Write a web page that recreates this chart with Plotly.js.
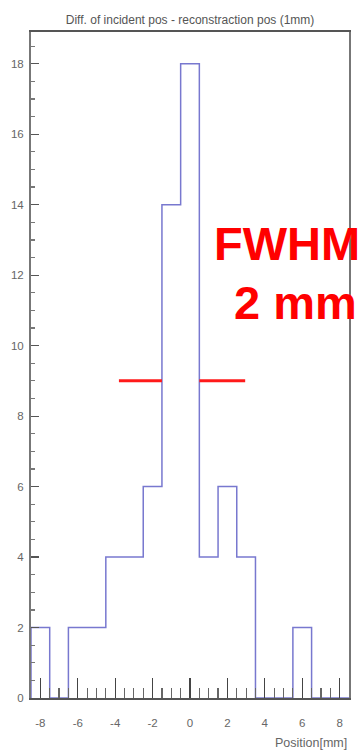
<!DOCTYPE html>
<html>
<head>
<meta charset="utf-8">
<script src="https://cdn.plot.ly/plotly-3.0.1.min.js"></script>
<style>html,body{margin:0;padding:0;background:#fff;}#chart{width:362px;height:750px;}</style>
</head>
<body>
<div id="chart"></div>
<script>
// Histogram: bin centres (1 mm bins) and counts
const binCenters = [-8, -7, -6, -5, -4, -3, -2, -1, 0, 1, 2, 3, 4, 5, 6, 7, 8];
const counts     = [ 2,  0,  2,  2,  4,  4,  6, 14, 18, 4, 6, 4, 0, 0, 2, 0, 0];
const binWidth = 1;

// FWHM marker segments at half maximum
const fwhmLeftX  = [-3.8, -1.5];
const fwhmLeftY  = [9, 9];
const fwhmRightX = [0.5, 2.95];
const fwhmRightY = [9, 9];

const xTickVals = [-8, -6, -4, -2, 0, 2, 4, 6, 8];
const yTickVals = [0, 2, 4, 6, 8, 10, 12, 14, 16, 18];

const titleText = "Diff. of incident pos - reconstraction pos (1mm)";
const xTitleText = "Position[mm]";
const labelLine1 = "FWHM";
const labelLine2 = "2 mm";

// build step outline from bins
const edges = binCenters.map(c => c - binWidth / 2).concat([binCenters[binCenters.length - 1] + binWidth / 2]);
const stepX = [edges[0]].concat(edges);
const stepY = [0].concat(counts).concat([0]);

const font = "Liberation Sans, Arial, sans-serif";

const traces = [
  {
    x: stepX, y: stepY, type: "scatter", mode: "lines",
    line: {shape: "hv", color: "#7878cf", width: 1.5},
    hoverinfo: "skip", showlegend: false, cliponaxis: false
  },
  {
    x: fwhmLeftX, y: fwhmLeftY, type: "scatter", mode: "lines",
    line: {color: "#ff1a1a", width: 3}, showlegend: false
  },
  {
    x: fwhmRightX, y: fwhmRightY, type: "scatter", mode: "lines",
    line: {color: "#ff1a1a", width: 3}, showlegend: false
  }
];

const layout = {
  width: 362, height: 750,
  margin: {l: 31, r: 13, t: 32, b: 52},
  paper_bgcolor: "#fff", plot_bgcolor: "#fff",
  showlegend: false,
  font: {family: font, color: "#555", size: 11},
  title: {text: titleText, font: {family: font, size: 12, color: "#555"}, x: 0.525, xanchor: "center", y: 0.973, yanchor: "middle"},
  xaxis: {
    range: [-8.5, 8.5], showgrid: false, zeroline: false,
    tickvals: xTickVals, ticktext: xTickVals.map(String),
    ticks: "inside", ticklen: 20, tickwidth: 1.2, tickcolor: "#444",
    minor: {dtick: 0.5, tick0: 0, ticks: "inside", ticklen: 10, tickwidth: 1.2, tickcolor: "#666", showgrid: false},
    showline: true, linecolor: "#555", linewidth: 2, mirror: true,
    tickfont: {family: font, size: 11.5, color: "#666"},
    ticklabelstandoff: 13
  },
  yaxis: {
    range: [0, 18.9], showgrid: false, zeroline: false,
    tickvals: yTickVals, ticktext: yTickVals.map(String),
    ticks: "inside", ticklen: 8, tickwidth: 1.2, tickcolor: "#555",
    minor: {dtick: 0.5, tick0: 0, ticks: "inside", ticklen: 4, tickwidth: 1.2, tickcolor: "#777", showgrid: false},
    showline: true, linecolor: "#777", linewidth: 2, mirror: true,
    tickfont: {family: font, size: 11.5, color: "#666"},
    ticklabelstandoff: 3
  },
  annotations: [
    {text: xTitleText, xref: "paper", yref: "paper", x: 1, y: -0.067, xanchor: "right", yanchor: "middle", showarrow: false, font: {family: font, size: 12.5, color: "#666"}},
    {text: "<b>" + labelLine1 + "</b>", xref: "paper", yref: "paper", x: 1.04, y: 0.683, xanchor: "right", yanchor: "middle", showarrow: false, font: {family: font, size: 47, color: "#ff0000"}},
    {text: "<b>" + labelLine2 + "</b>", xref: "paper", yref: "paper", x: 1.033, y: 0.594, xanchor: "right", yanchor: "middle", showarrow: false, font: {family: font, size: 47, color: "#ff0000"}}
  ]
};

Plotly.newPlot("chart", traces, layout, {displayModeBar: false, staticPlot: true});
</script>
</body>
</html>
